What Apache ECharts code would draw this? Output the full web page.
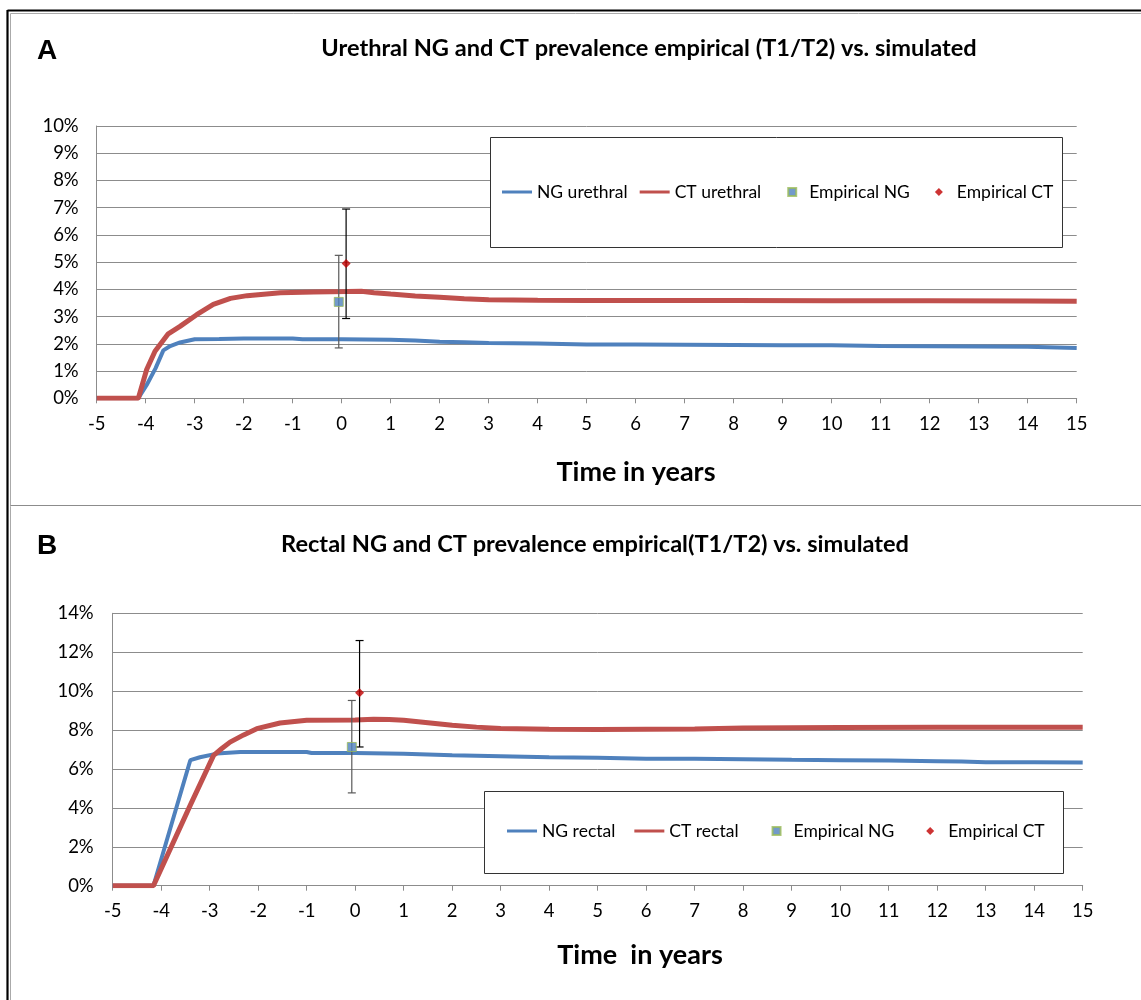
<!DOCTYPE html>
<html>
<head>
<meta charset="utf-8">
<script src="https://cdn.jsdelivr.net/npm/echarts@6/dist/echarts.min.js"></script>
<style>html,body{margin:0;padding:0;background:#fff}#c{width:1141px;height:1000px}</style>
</head>
<body>
<div id="c"></div>
<script>
// ---- Panel A (urethral) ----
const ngUrethralT = [-5, -4.15, -3.98, -3.8, -3.64, -3.5, -3.3, -3.0, -2.5, -2.0, -1.0, -0.8, 0, 1, 1.5, 2, 2.5, 3, 4, 5, 6, 7, 8, 9, 10, 11, 12, 13, 14, 15];
const ngUrethralV = [0, 0, 0.49, 1.1, 1.76, 1.92, 2.05, 2.17, 2.18, 2.2, 2.2, 2.17, 2.17, 2.15, 2.12, 2.08, 2.06, 2.03, 2.01, 1.98, 1.98, 1.97, 1.96, 1.95, 1.95, 1.92, 1.91, 1.9, 1.89, 1.85];
const ctUrethralT = [-5, -4.15, -3.98, -3.81, -3.54, -3.3, -2.96, -2.62, -2.27, -1.93, -1.25, -0.57, 0.11, 0.4, 0.66, 1, 1.5, 2, 2.5, 3, 4, 5, 6, 8, 10, 12, 14, 15];
const ctUrethralV = [0, 0, 1.06, 1.73, 2.37, 2.64, 3.07, 3.45, 3.67, 3.77, 3.88, 3.9, 3.92, 3.93, 3.88, 3.83, 3.76, 3.71, 3.66, 3.62, 3.6, 3.59, 3.59, 3.59, 3.58, 3.58, 3.57, 3.56];
// empirical: [time, value, lower, upper]
const empNgA = [-0.06, 3.54, 1.85, 5.25];
const empCtA = [0.09, 4.95, 2.93, 6.95];

// ---- Panel B (rectal) ----
const ngRectalT = [-5, -4.16, -3.4, -3.2, -2.85, -2.37, -1.0, -0.9, 0, 1, 2, 3, 4, 5, 6, 7, 8, 9, 10, 11, 12, 12.5, 13, 14, 15];
const ngRectalV = [0, 0, 6.45, 6.6, 6.79, 6.87, 6.87, 6.82, 6.82, 6.78, 6.7, 6.65, 6.6, 6.58, 6.53, 6.52, 6.5, 6.47, 6.45, 6.43, 6.4, 6.38, 6.35, 6.35, 6.33];
const ctRectalT = [-5, -4.16, -3.4, -2.92, -2.75, -2.58, -2.3, -2.03, -1.55, -1.0, 0, 0.38, 0.7, 1, 1.5, 2, 2.5, 3, 4, 5, 6, 7, 8, 9, 10, 12, 15];
const ctRectalV = [0, 0, 4.14, 6.7, 7.05, 7.38, 7.75, 8.07, 8.36, 8.5, 8.52, 8.56, 8.54, 8.5, 8.38, 8.25, 8.15, 8.08, 8.04, 8.03, 8.04, 8.05, 8.1, 8.12, 8.13, 8.14, 8.14];
const empNgB = [-0.07, 7.13, 4.77, 9.52];
const empCtB = [0.09, 9.92, 7.13, 12.6];

const legendA = ['NG urethral', 'CT urethral', 'Empirical NG', 'Empirical CT'];
const legendB = ['NG rectal', 'CT rectal', 'Empirical NG', 'Empirical CT'];
const titleA = 'Urethral NG and CT prevalence empirical (T1/T2) vs. simulated';
const titleB = 'Rectal NG and CT prevalence empirical(T1/T2) vs. simulated';
const axisNameA = 'Time in years';
const axisNameB = 'Time  in years';

const zip = (t, v) => t.map((x, i) => [x, v[i]]);
const BLUE = '#4f81bd', RED = '#c0504d', GRID = '#8c8c8c';
const FONT = 'Lato';
const barColors = ['#595959', '#000000'];
// legend icons (30x8 boxes; zero-length subpaths pin the box corners)
const LINE_ICON = 'path://M0,0H30V3H0Z';
const SQUARE_ICON = 'path://M0,0L0,0 M14,0H22V8H14Z M30,8L30,8';
const DIAMOND_ICON = 'path://M0,0L0,0 M17,0L21,4L17,8L13,4Z M30,8L30,8';

function xAxis(gi) {
  return {
    gridIndex: gi, type: 'value', min: -5, max: 15, interval: 1,
    axisLine: { onZero: false, lineStyle: { color: GRID, width: 1 } },
    axisTick: { show: true, length: 5, lineStyle: { color: GRID } },
    splitLine: { show: false },
    axisLabel: { color: '#000', fontFamily: FONT, fontSize: 18.5, margin: 16 }
  };
}
function yAxis(gi, max, interval, margin) {
  return {
    gridIndex: gi, type: 'value', min: 0, max: max, interval: interval,
    axisLine: { show: true, onZero: false, lineStyle: { color: GRID, width: 1 } },
    axisTick: { show: false },
    splitLine: { show: true, lineStyle: { color: GRID, width: 1 } },
    axisLabel: { color: '#000', fontFamily: FONT, fontSize: 18.5, margin: margin, formatter: '{value}%' }
  };
}
function errSeries(gi, rows) {
  return {
    type: 'custom', xAxisIndex: gi, yAxisIndex: gi, z: 3, silent: true,
    data: rows,
    encode: { x: 0, y: [2, 3] },
    renderItem: function (params, api) {
      const t = api.value(0), lo = api.value(2), hi = api.value(3);
      const a = api.coord([t, lo]), b = api.coord([t, hi]);
      const col = barColors[params.dataIndex];
      const st = { stroke: col, lineWidth: 1.2 };
      const c = 4;
      return {
        type: 'group', children: [
          { type: 'line', shape: { x1: a[0], y1: a[1], x2: b[0], y2: b[1] }, style: st },
          { type: 'line', shape: { x1: a[0] - c, y1: a[1], x2: a[0] + c, y2: a[1] }, style: st },
          { type: 'line', shape: { x1: b[0] - c, y1: b[1], x2: b[0] + c, y2: b[1] }, style: st }
        ]
      };
    }
  };
}
function lineSeries(name, gi, data, color, width) {
  return {
    name: name, type: 'line', xAxisIndex: gi, yAxisIndex: gi, data: data,
    symbol: 'none', smooth: false, z: 2,
    lineStyle: { color: color, width: width }, itemStyle: { color: color }
  };
}
function empSeries(gi, ng, ct) {
  return [
    { name: 'Empirical NG', type: 'scatter', xAxisIndex: gi, yAxisIndex: gi, z: 4,
      data: [[ng[0], ng[1]]], symbol: 'rect', symbolSize: 9,
      itemStyle: { color: BLUE, borderColor: '#9bbb59', borderWidth: 1 } },
    { name: 'Empirical CT', type: 'scatter', xAxisIndex: gi, yAxisIndex: gi, z: 4,
      data: [[ct[0], ct[1]]], symbol: 'diamond', symbolSize: 9,
      itemStyle: { color: '#c00000' } }
  ];
}
function legend(names, left, top, gap) {
  return {
    data: [
      { name: names[0], icon: LINE_ICON, itemStyle: { borderWidth: 0 } },
      { name: names[1], icon: LINE_ICON, itemStyle: { borderWidth: 0 } },
      { name: names[2], icon: SQUARE_ICON },
      { name: names[3], icon: DIAMOND_ICON }
    ],
    left: left, top: top, orient: 'horizontal', selectedMode: false,
    itemWidth: 30, itemHeight: 8, itemGap: gap, padding: 0, symbolKeepAspect: true,
    textStyle: { color: '#000', fontFamily: FONT, fontSize: 17.5 }
  };
}
function txt(x, y, text, font, align) {
  return { type: 'text', x: x, y: y, z: 10, silent: true,
    style: { text: text, font: font, fill: '#000', align: align || 'center', verticalAlign: 'middle' } };
}
function ln(x1, y1, x2, y2, color, w) {
  return { type: 'line', z: 10, silent: true, shape: { x1: x1, y1: y1, x2: x2, y2: y2 }, style: { stroke: color, lineWidth: w } };
}

const chart = echarts.init(document.getElementById('c'), null, { renderer: 'canvas' });
chart.setOption({
  backgroundColor: '#fff',
  animation: false,
  grid: [
    { left: 96.7, top: 126, width: 980, height: 272.3, show: false },
    { left: 112.7, top: 613.3, width: 970, height: 272.4, show: false }
  ],
  xAxis: [xAxis(0), xAxis(1)],
  yAxis: [yAxis(0, 10, 1, 18), yAxis(1, 14, 2, 19)],
  legend: [legend(legendA, 502, 183, 12), legend(legendB, 507, 822, 19)],
  series: [
    lineSeries('NG urethral', 0, zip(ngUrethralT, ngUrethralV), BLUE, 4),
    lineSeries('CT urethral', 0, zip(ctUrethralT, ctUrethralV), RED, 5),
    errSeries(0, [empNgA, empCtA]),
    ...empSeries(0, empNgA, empCtA),
    lineSeries('NG rectal', 1, zip(ngRectalT, ngRectalV), BLUE, 4),
    lineSeries('CT rectal', 1, zip(ctRectalT, ctRectalV), RED, 5),
    errSeries(1, [empNgB, empCtB]),
    ...empSeries(1, empNgB, empCtB)
  ],
  graphic: [
    // legend boxes
    { type: 'rect', z: 3, silent: true, shape: { x: 490.5, y: 137.5, width: 572, height: 110 }, style: { fill: '#fff', stroke: '#333', lineWidth: 1 } },
    { type: 'rect', z: 3, silent: true, shape: { x: 484.5, y: 791.5, width: 579, height: 82 }, style: { fill: '#fff', stroke: '#333', lineWidth: 1 } },
    // frame
    ln(7.5, 10.5, 1141, 10.5, '#000', 2.2),
    ln(7.5, 10, 7.5, 1000, '#000', 2.2),
    ln(10.5, 13.5, 1141, 13.5, '#aaa', 1),
    ln(10.5, 13.5, 10.5, 1000, '#aaa', 1),
    ln(10.5, 505.5, 1141, 505.5, '#8c8c8c', 1.2),
    // panel letters and titles
    txt(47, 51, 'A', 'bold 28px "Liberation Sans"'),
    txt(47, 546, 'B', 'bold 28px "Liberation Sans"'),
    txt(649, 48, titleA, 'bold 23.6px ' + FONT),
    txt(595, 544, titleB, 'bold 23.6px ' + FONT),
    txt(636, 472, axisNameA, 'bold 27px ' + FONT),
    txt(640, 955, axisNameB, 'bold 27px ' + FONT)
  ]
});
</script>
</body>
</html>
